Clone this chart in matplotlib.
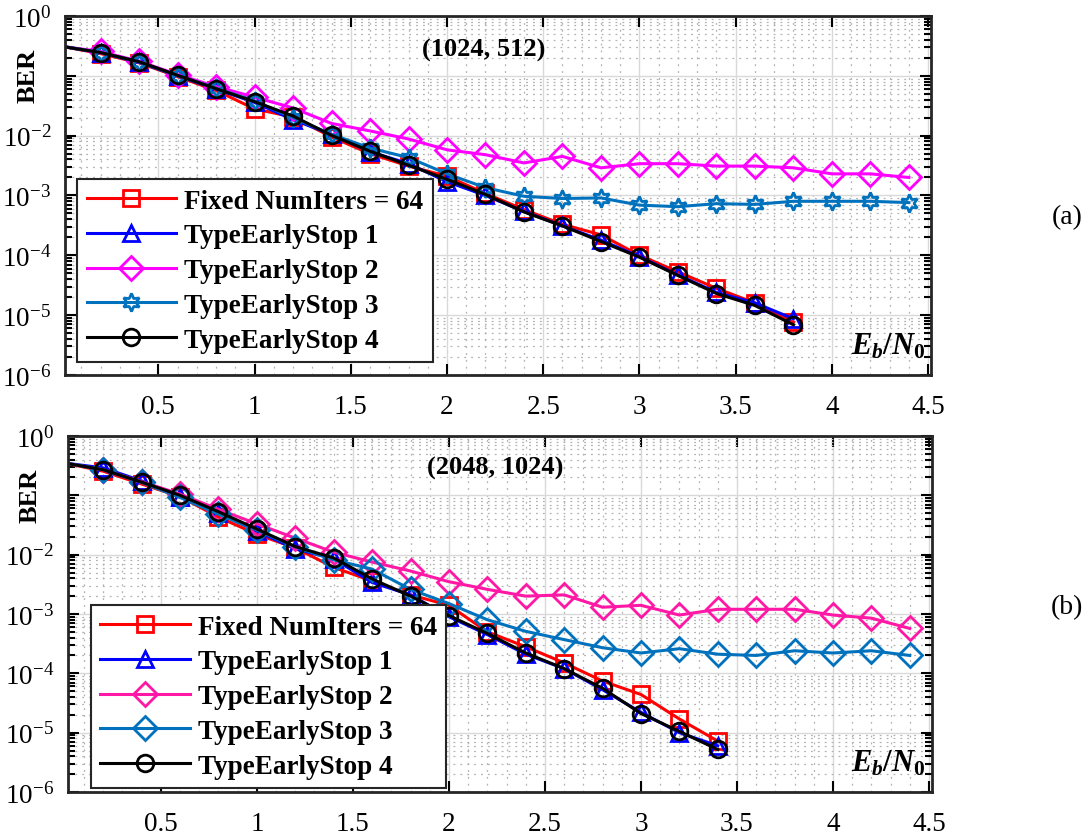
import matplotlib
matplotlib.use("Agg")
import matplotlib.pyplot as plt
from matplotlib.ticker import FixedLocator, MultipleLocator, LogLocator, NullFormatter, FixedFormatter

plt.rcParams['font.family'] = ['Liberation Serif', 'DejaVu Serif']
plt.rcParams['mathtext.fontset'] = 'custom'
plt.rcParams['mathtext.rm'] = 'Liberation Serif:bold'
plt.rcParams['mathtext.it'] = 'Liberation Serif:italic:bold'
plt.rcParams['mathtext.bf'] = 'Liberation Serif:bold'

# Eb/N0 values (dB)
snr_long = [0.0, 0.2, 0.4, 0.6, 0.8, 1.0, 1.2, 1.4, 1.6, 1.8, 2.0, 2.2,
            2.4, 2.6, 2.8, 3.0, 3.2, 3.4, 3.6, 3.8, 4.0, 4.2, 4.4]
snr_a = snr_long[:20]   # up to 3.8
snr_b = snr_long[:18]   # up to 3.4

labels_a = ['Fixed NumIters = 64', 'TypeEarlyStop 1', 'TypeEarlyStop 2',
            'TypeEarlyStop 3', 'TypeEarlyStop 4']
labels_b = labels_a

# (1024, 512)
ber_a_fixed = [0.31, 0.235, 0.165, 0.097, 0.057, 0.028, 0.0205, 0.0095, 0.0050, 0.0031,
               0.0021, 0.00108, 0.00058, 0.00033, 0.00022, 1.0e-4, 5.3e-5, 2.8e-5, 1.6e-5, 7.6e-6]
ber_a_es1 = [0.31, 0.245, 0.168, 0.100, 0.060, 0.036, 0.0185, 0.0105, 0.0054, 0.0034,
             0.0017, 0.00100, 0.00054, 0.00031, 0.00018, 9.5e-5, 4.7e-5, 2.4e-5, 1.6e-5, 8.7e-6]
ber_a_es2 = [0.31, 0.255, 0.175, 0.105, 0.066, 0.044, 0.029, 0.016, 0.012, 0.0088, 0.0058, 0.0048,
             0.0035, 0.0045, 0.0029, 0.0034, 0.0034, 0.0031, 0.0031, 0.0029, 0.0023, 0.0023, 0.0020]
ber_a_es3 = [0.31, 0.245, 0.17, 0.101, 0.062, 0.038, 0.020, 0.0105, 0.0062, 0.0043, 0.0023, 0.00135,
             0.00097, 0.00089, 0.00091, 0.00069, 0.00065, 0.00073, 0.00071, 0.0008, 0.0008, 0.0008, 0.00076]
ber_a_es4 = [0.31, 0.245, 0.172, 0.102, 0.061, 0.037, 0.0213, 0.0101, 0.0055, 0.0032,
             0.00186, 0.00104, 0.00053, 0.00031, 0.00017, 9.3e-5, 4.6e-5, 2.3e-5, 1.45e-5, 6.9e-6]

# (2048, 1024)
ber_b_fixed = [0.35, 0.255, 0.155, 0.095, 0.043, 0.022, 0.0130, 0.0061, 0.0036, 0.0021,
               0.0014, 0.00050, 0.00028, 0.00015, 7.4e-5, 4.4e-5, 1.7e-5, 7.2e-6]
ber_b_es1 = [0.35, 0.29, 0.175, 0.095, 0.050, 0.025, 0.0125, 0.0085, 0.0034, 0.0021,
             0.00090, 0.00045, 0.00021, 0.00012, 5.3e-5, 2.2e-5, 1.0e-5, 6.0e-6]
ber_b_es2 = [0.35, 0.27, 0.17, 0.105, 0.058, 0.033, 0.019, 0.011, 0.0075, 0.0053, 0.0035, 0.0026,
             0.0020, 0.0021, 0.0013, 0.0014, 0.00096, 0.0012, 0.0012, 0.0012, 0.00096, 0.00085, 0.00057]
ber_b_es3 = [0.35, 0.27, 0.165, 0.092, 0.048, 0.026, 0.0135, 0.0082, 0.0057, 0.0026, 0.0015, 0.00080,
             0.00051, 0.00037, 0.00027, 0.00022, 0.00026, 0.00021, 0.0002, 0.00024, 0.00022, 0.00024, 0.0002]
ber_b_es4 = [0.35, 0.27, 0.167, 0.10, 0.053, 0.027, 0.0137, 0.0088, 0.0039, 0.0020,
             0.00094, 0.00047, 0.00022, 0.00012, 5.6e-5, 2.1e-5, 1.05e-5, 5.2e-6]

xticks = [0.5, 1, 1.5, 2, 2.5, 3, 3.5, 4, 4.5]
xtick_labels = ['0.5', '1', '1.5', '2', '2.5', '3', '3.5', '4', '4.5']
yticks = [1e-6, 1e-5, 1e-4, 1e-3, 1e-2, 1e-1, 1e0]
ytick_labels = [r'$\mathdefault{10^{-6}}$', r'$\mathdefault{10^{-5}}$', r'$\mathdefault{10^{-4}}$',
                r'$\mathdefault{10^{-3}}$', r'$\mathdefault{10^{-2}}$', '', r'$\mathdefault{10^{0}}$']


def draw_panel(ax, series, title, legend_anchor):
    for x, y, color, marker, ms, lab in series:
        ax.semilogy(x, y, color=color, marker=marker, markersize=ms, markerfacecolor='none',
                    markeredgewidth=2, linewidth=2.2, markevery=slice(1, None), label=lab)
    ax.set_xlim(0.015, 4.515)
    ax.set_ylim(1e-6, 1)
    ax.xaxis.set_major_locator(FixedLocator(xticks))
    ax.xaxis.set_major_formatter(FixedFormatter(xtick_labels))
    ax.xaxis.set_minor_locator(MultipleLocator(0.1))
    ax.yaxis.set_major_locator(FixedLocator(yticks))
    ax.yaxis.set_major_formatter(FixedFormatter(ytick_labels))
    ax.yaxis.set_minor_locator(LogLocator(base=10, subs=[2, 3, 4, 5, 6, 7, 8, 9], numticks=20))
    ax.yaxis.set_minor_formatter(NullFormatter())
    ax.tick_params(which='both', direction='in', top=True, right=True, labelsize=19.5, width=1.5)
    ax.tick_params(which='major', length=8, pad=10)
    ax.tick_params(axis='x', which='major', pad=14)
    ax.tick_params(axis='y', which='minor', length=5)
    ax.tick_params(axis='x', which='minor', length=0)
    ax.grid(True, which='major', color='0.85', linewidth=1.0, linestyle='-')
    ax.grid(True, which='minor', color='0.7', linewidth=0.9, linestyle=(0, (1.5, 4)))
    ax.set_axisbelow(True)
    for sp in ax.spines.values():
        sp.set_linewidth(2)
        sp.set_color('0.15')
    ax.text(title[1], title[2], title[0], transform=ax.transAxes, ha='center', va='center',
            fontsize=19, fontweight='bold')
    ax.text(-0.043, 0.835, 'BER', transform=ax.transAxes, rotation=90, ha='center',
            va='center', fontsize=19, fontweight='bold')
    ax.text(0.993, 0.06, r'$E_b/N_0$', transform=ax.transAxes, ha='right', va='baseline', fontsize=22)
    leg = ax.legend(loc='lower left', bbox_to_anchor=legend_anchor, borderaxespad=0,
                    prop={'weight': 'bold', 'size': 19.5}, handlelength=3.3, handletextpad=0.3,
                    labelspacing=0.36, borderpad=0.35, fancybox=False, framealpha=1)
    leg.get_frame().set_edgecolor('0.15')
    leg.get_frame().set_linewidth(1.5)


fig = plt.figure(figsize=(10.87, 8.37), dpi=100)
ax1 = fig.add_axes([0.0598, 0.5508, 0.7967, 0.4289])
ax2 = fig.add_axes([0.0623, 0.0526, 0.7950, 0.4253])

teal = '#0072BD'
series_a = [
    (snr_a, ber_a_fixed, 'red', 's', 11, labels_a[0]),
    (snr_a, ber_a_es1, 'blue', '^', 12, labels_a[1]),
    (snr_long, ber_a_es2, 'magenta', 'D', 12, labels_a[2]),
    (snr_long, ber_a_es3, teal, (6, 1, 0), 13, labels_a[3]),
    (snr_a, ber_a_es4, 'black', 'o', 12, labels_a[4]),
]
series_b = [
    (snr_b, ber_b_fixed, 'red', 's', 11, labels_b[0]),
    (snr_b, ber_b_es1, 'blue', '^', 12, labels_b[1]),
    (snr_long, ber_b_es2, '#ff17a5', 'D', 12, labels_b[2]),
    (snr_long, ber_b_es3, teal, 'D', 12, labels_b[3]),
    (snr_b, ber_b_es4, 'black', 'o', 12, labels_b[4]),
]

draw_panel(ax1, series_a, ('(1024, 512)', 0.484, 0.908), (0.014, 0.036))
draw_panel(ax2, series_b, ('(2048, 1024)', 0.4945, 0.913), (0.0266, 0.011))

fig.text(0.982, 0.74, '(a)', ha='center', va='center', fontsize=20)
fig.text(0.982, 0.274, '(b)', ha='center', va='center', fontsize=20)

fig.savefig('out.png', dpi=100)
